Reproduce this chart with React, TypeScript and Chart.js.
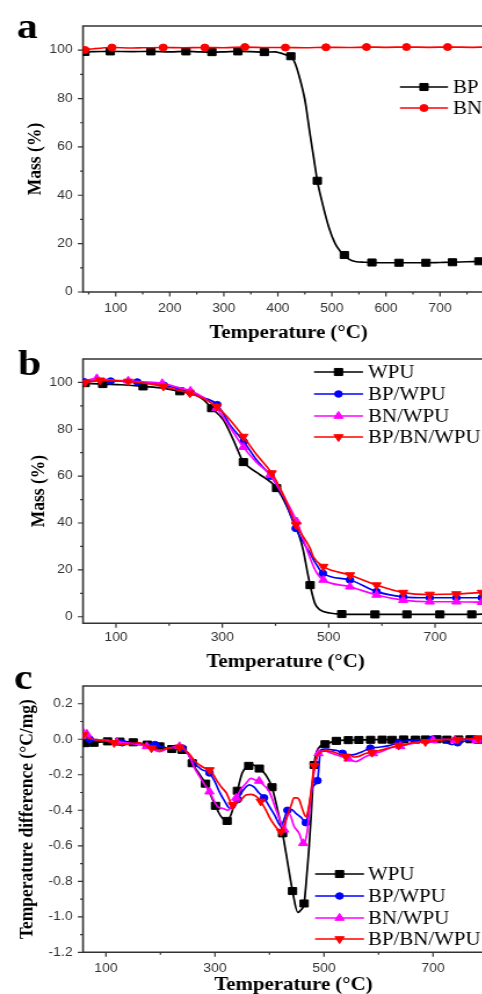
import React, { useEffect, useRef } from "react";
import { Chart, registerables } from "chart.js";
Chart.register(...registerables);

const SERIF = "'Liberation Serif', 'Times New Roman', serif";
const SANS = "'Liberation Sans', Arial, sans-serif";
const SX = 1.16;

// ---------- Panel a data: [T, mass, marker] ----------
const A_BP = [
  [39.5, 99.0], [43, 99.3, 1], [60, 99.4], [90, 99.5, 1], [130, 99.4], [165, 99.5, 1], [200, 99.3],
  [230, 99.5, 1], [255, 99.3], [278, 99.2, 1], [300, 99.3], [326, 99.5, 1], [350, 99.4], [375, 99.2, 1],
  [395, 99.3], [405, 98.8], [416, 98.0], [424, 97.5, 1], [432, 94.5], [441, 88.0], [450, 79.5],
  [459, 66.0], [466, 56.0], [473, 46.0, 1], [481, 38.0], [494, 27.0], [506, 20.0], [515, 17.0],
  [523, 15.3, 1], [532, 13.5], [545, 12.5], [560, 12.3], [574, 12.2, 1], [600, 12.1], [624, 12.1, 1],
  [650, 12.1], [674, 12.1, 1], [700, 12.2], [723, 12.3, 1], [750, 12.5], [772, 12.7, 1], [800, 12.9],
];
const A_BN = [
  [39.5, 99.9], [43, 100.1, 1], [60, 100.6], [93, 101.1, 1], [130, 100.9], [150, 101.0], [188, 101.1, 1],
  [225, 101.0], [265, 101.1, 1], [300, 101.0], [339, 101.3, 1], [380, 101.1], [414, 101.1, 1],
  [450, 101.0], [489, 101.2, 1], [530, 101.1], [564, 101.3, 1], [600, 101.2], [638, 101.3, 1],
  [680, 101.2], [714, 101.3, 1], [760, 101.2], [789, 101.3, 1], [800, 101.3],
];

// ---------- Panel b data ----------
const B_WPU = [
  [38, 99.8], [42, 99.7, 1], [75, 99.3, 1], [110, 99.0], [151, 98.3, 1], [190, 97.5], [220, 96.2, 1],
  [250, 94.5], [265, 92.5], [280, 89.0, 1], [301.8, 84.0], [320.6, 75.5], [339.5, 66.0, 1], [348.8, 64.1],
  [370.8, 60.6], [389.6, 57.7], [402, 54.9, 1], [415, 50.0], [427, 44.2], [443, 35.6], [452, 28.5],
  [458, 21.4], [465, 13.5, 1], [474, 5.7], [483.6, 2.9], [502, 1.6], [524.5, 1.15, 1], [587, 1.0, 1],
  [647, 1.0, 1], [709, 1.0, 1], [769, 1.0, 1], [800, 1.2],
];
const B_BP_WPU = [
  [38, 100.3], [40, 100.3, 1], [65, 100.8], [90, 100.6, 1], [140, 100.2, 1], [190, 98.8, 1], [240, 95.7, 1],
  [265, 93.5], [290.5, 90.5, 1], [314, 82.0], [340, 74.8, 1], [364, 67.0], [391, 60.0, 1], [415, 51.0],
  [438, 37.7, 1], [465, 27.0], [475, 23.0], [489, 18.5, 1], [540, 15.7, 1], [590, 10.7, 1], [640, 8.5, 1],
  [690, 8.1, 1], [740, 8.1, 1], [788, 8.1, 1], [800, 8.1],
];
const B_BN_WPU = [
  [38, 100.5], [64, 101.7, 1], [90, 101.0], [123, 100.7, 1], [150, 100.3], [187, 99.6, 1], [215, 98.0],
  [240, 96.4, 1], [265, 93.5], [289, 89.0, 1], [314, 81.0], [339.5, 72.4, 1], [364, 66.0], [389.7, 60.5, 1],
  [415, 51.5], [440, 40.6, 1], [465, 25.0], [478, 18.5], [490, 15.7, 1], [540, 12.8, 1], [590, 9.3, 1],
  [640, 7.1, 1], [690, 6.4, 1], [740, 6.4, 1], [788, 6.2, 1], [800, 6.2],
];
const B_BP_BN_WPU = [
  [38, 100.0], [41.7, 100.0, 1], [70, 100.9, 1], [123, 100.4, 1], [160, 99.5], [189, 98.3, 1], [215, 96.8],
  [239, 95.4, 1], [265, 93.0], [289.4, 89.7, 1], [314.4, 84.0], [339.5, 76.9, 1], [364.6, 69.1],
  [392.8, 61.3, 1], [414.7, 52.0], [438.5, 39.2, 1], [465, 29.2], [471, 25.6], [490, 21.4, 1],
  [540, 17.8, 1], [590, 13.5, 1], [640, 10.3, 1], [690, 9.5, 1], [740, 9.7, 1], [788, 10.3, 1], [800, 10.3],
];

// ---------- Panel c data ----------
const C_WPU = [
  [58, -0.02], [61.6, -0.022, 1], [78, -0.02, 1], [103, -0.012, 1], [125.6, -0.013, 1], [150, -0.017, 1],
  [176, -0.03, 1], [198.7, -0.04, 1], [221, -0.055, 1], [240, -0.06, 1], [250, -0.075], [258.4, -0.135, 1],
  [270, -0.19], [282.7, -0.25, 1], [290, -0.3], [301, -0.375, 1], [310, -0.43], [322.3, -0.46, 1],
  [330, -0.42], [341.2, -0.29, 1], [350, -0.19], [362, -0.15, 1], [370, -0.145], [381.4, -0.165, 1],
  [393, -0.2], [404.6, -0.27, 1], [415, -0.4], [424, -0.53, 1], [433, -0.69], [442.3, -0.855, 1],
  [452, -0.975], [458, -0.96], [463.6, -0.925, 1], [468, -0.78], [472.8, -0.6], [477, -0.4],
  [482, -0.145, 1], [490, -0.05], [502, -0.028, 1], [522.7, -0.009, 1], [544.7, -0.005, 1],
  [564, -0.004, 1], [585.5, -0.003, 1], [606.8, -0.002, 1], [625, -0.003, 1], [646, -0.001, 1],
  [667.7, -0.002, 1], [686, -0.001, 1], [707, 0.0, 1], [725.6, -0.002, 1], [747, -0.001, 1],
  [768, 0.0, 1], [783, -0.002, 1], [800, -0.001],
];
const C_BP_WPU = [
  [58, 0.0], [70, 0.0, 1], [90, -0.01], [110, -0.01], [130, -0.02, 1], [150, -0.025], [170, -0.03],
  [190, -0.03, 1], [205, -0.045], [220, -0.05], [240, -0.05, 1], [250, -0.08], [259.6, -0.126],
  [275, -0.17], [290, -0.19, 1], [300, -0.24], [308, -0.295], [318, -0.35], [328, -0.39], [335, -0.385],
  [342, -0.34, 1], [350, -0.295], [363, -0.257], [372, -0.27], [380, -0.3], [390, -0.33, 1], [400, -0.38],
  [410, -0.43], [421, -0.49], [427, -0.45], [433, -0.4, 1], [440, -0.395], [448.5, -0.417], [458, -0.44],
  [466.7, -0.47, 1], [473, -0.38], [479, -0.27], [488, -0.233, 1], [494, -0.06], [505, -0.055],
  [515, -0.06], [525, -0.065], [534, -0.079, 1], [552, -0.088], [570, -0.07], [585, -0.05, 1],
  [600, -0.045], [619, -0.036], [637, -0.02, 1], [650, -0.01], [668, -0.005], [698, 0.0, 1],
  [715, -0.005], [735, -0.03], [745, -0.02, 1], [759, -0.01], [777, 0.0, 1], [800, -0.005],
];
const C_BN_WPU = [
  [58, 0.06], [65, 0.03, 1], [75, 0.0], [100, -0.005], [120, -0.015, 1], [150, -0.025], [175, -0.04, 1],
  [198.7, -0.07], [215, -0.05], [235, -0.04, 1], [253.5, -0.098], [262, -0.16], [271.8, -0.21],
  [280, -0.25], [290, -0.295, 1], [305, -0.38], [315, -0.39], [323.5, -0.4], [331, -0.37],
  [338.8, -0.33, 1], [348, -0.28], [357, -0.248], [366, -0.22], [374, -0.23], [381, -0.235, 1],
  [390, -0.26], [399.7, -0.295], [410, -0.38], [418, -0.445], [427, -0.51, 1], [431, -0.45],
  [436, -0.417], [445, -0.49], [454.5, -0.53], [461.8, -0.586, 1], [466, -0.57], [469.7, -0.51],
  [474, -0.38], [478, -0.26], [485, -0.13], [490, -0.08, 1], [500, -0.065], [515, -0.08], [530, -0.095],
  [545, -0.11, 1], [558, -0.126], [575, -0.1], [590, -0.08, 1], [605, -0.07], [620, -0.05],
  [640, -0.04, 1], [660, -0.025], [680, -0.015], [700, -0.005, 1], [720, 0.0], [740, -0.005, 1],
  [760, 0.0], [780, -0.005, 1], [800, -0.01],
];
const C_BP_BN_WPU = [
  [58, 0.024, 1], [65, 0.01], [75, 0.0], [100, -0.01], [115, -0.02, 1], [130, -0.03], [145, -0.025],
  [160, -0.02], [183.5, -0.05, 1], [200, -0.06], [215, -0.05], [235, -0.045, 1], [253.5, -0.085],
  [262, -0.12], [271.8, -0.145], [280, -0.16], [290, -0.173, 1], [297, -0.2], [305, -0.24], [312, -0.27],
  [320.5, -0.3], [332.7, -0.37, 1], [338, -0.355], [345, -0.35], [351, -0.33], [357, -0.314],
  [366, -0.31], [375, -0.32], [384, -0.35, 1], [393.7, -0.4], [400, -0.44], [409, -0.483],
  [421, -0.52, 1], [427, -0.48], [433, -0.426], [440, -0.37], [445, -0.33], [450, -0.33],
  [454.5, -0.34], [460, -0.39], [466.7, -0.436], [471, -0.4], [476, -0.3], [482, -0.15, 1],
  [488, -0.09], [495, -0.07], [505, -0.065], [515, -0.07], [525, -0.08], [534, -0.085],
  [540, -0.098, 1], [547, -0.09], [555, -0.1], [565, -0.095], [576, -0.08], [588, -0.075, 1],
  [600, -0.065], [612, -0.055], [624, -0.045], [637, -0.035, 1], [649.5, -0.03], [660, -0.02],
  [674, -0.015], [686, -0.015, 1], [698, -0.01], [712, -0.005], [728, 0.0], [745, -0.002, 1],
  [759, 0.0], [772, 0.002], [783, 0.005, 1], [800, 0.0],
];

// ---------- ticks ----------
const A_X_MAJOR = [100, 200, 300, 400, 500, 600, 700];
const A_X_MINOR = [50, 150, 250, 350, 450, 550, 650, 750];
const BC_X_MAJOR = [100, 300, 500, 700];
const BC_X_MINOR = [200, 400, 600];
const MASS_Y_MAJOR = [0, 20, 40, 60, 80, 100];
const MASS_Y_MINOR = [10, 30, 50, 70, 90];
const C_Y_MAJOR = [0.2, 0.0, -0.2, -0.4, -0.6, -0.8, -1.0, -1.2];
const C_Y_MINOR = [0.1, -0.1, -0.3, -0.5, -0.7, -0.9, -1.1];

const A_LABELS = ["BP", "BN"];
const BC_LABELS = ["WPU", "BP/WPU", "BN/WPU", "BP/BN/WPU"];

const BLACK = "#000000";
const BLUE = "#0000ff";
const MAGENTA = "#ff00ff";
const RED = "#ff0000";

type Series = { label: string; data: number[][]; color: string; style: string; rot: number; r: number; order: number };

const S = (label: string, data: number[][], color: string, style: string, rot: number, r: number, order: number): Series =>
  ({ label, data, color, style, rot, r, order });

const mk4 = (d: number[][][]) => [
  S(BC_LABELS[0], d[0], BLACK, "rect", 0, 5, 4),
  S(BC_LABELS[1], d[1], BLUE, "circle", 0, 3.3, 3),
  S(BC_LABELS[2], d[2], MAGENTA, "triangle", 0, 4.6, 2),
  S(BC_LABELS[3], d[3], RED, "triangle", 180, 4.6, 1),
];

const PANELS = [
  {
    key: "a", top: 0, W: 440, H: 344, padTop: 26, padRight: 14.1, XH: 52, YW: 71.55,
    xMin: 39.5, xMax: 800, yMin: 0, yMax: 110,
    xMajor: A_X_MAJOR, xMinor: A_X_MINOR, yMajor: MASS_Y_MAJOR, yMinor: MASS_Y_MINOR,
    yDec: 0, xTickPad: 9, yTitle: "Mass (%)", yTitlePad: 19.7,
    letter: "a", letterX: 14.4, letterY: 38.3,
    legend: { x1: 344.8, x2: 386.2, tx: 390.5, ys: [87, 108] },
    series: [S(A_LABELS[0], A_BP, BLACK, "rect", 0, 5, 2), S(A_LABELS[1], A_BN, RED, "circle", 0, 3.5, 1)],
  },
  {
    key: "b", top: 336, W: 440, H: 337, padTop: 23, padRight: 19.1, XH: 49.7, YW: 71.55,
    xMin: 38, xMax: 800, yMin: -2.8, yMax: 110,
    xMajor: BC_X_MAJOR, xMinor: BC_X_MINOR, yMajor: MASS_Y_MAJOR, yMinor: MASS_Y_MINOR,
    yDec: 0, xTickPad: 7, yTitle: "Mass (%)", yTitlePad: 23.1,
    letter: "b", letterX: 15.5, letterY: 39,
    legend: { x1: 270.7, x2: 312.9, tx: 317.2, ys: [36, 58, 80, 101] },
    series: mk4([B_WPU, B_BP_WPU, B_BN_WPU, B_BP_BN_WPU]),
  },
  {
    key: "c", top: 660, W: 440, H: 336, padTop: 26, padRight: 4.3, XH: 43.7, YW: 71.55,
    xMin: 58, xMax: 830, yMin: -1.2, yMax: 0.3,
    xMajor: BC_X_MAJOR, xMinor: BC_X_MINOR, yMajor: C_Y_MAJOR, yMinor: C_Y_MINOR,
    yDec: 1, xTickPad: 9, yTitle: "Temperature difference (\u00B0C/mg)", yTitlePad: 12.5,
    letter: "c", letterX: 12, letterY: 29.3,
    legend: { x1: 271.6, x2: 313.8, tx: 317.2, ys: [214, 236, 258, 279] },
    series: mk4([C_WPU, C_BP_WPU, C_BN_WPU, C_BP_BN_WPU]),
  },
];

function drawMarker(ctx: CanvasRenderingContext2D, style: string, rot: number, x: number, y: number, r: number, color: string) {
  ctx.fillStyle = color;
  ctx.strokeStyle = color;
  ctx.lineWidth = 1;
  ctx.beginPath();
  if (style === "rect") {
    const s = r * Math.SQRT1_2;
    ctx.rect(x - s, y - s, 2 * s, 2 * s);
  } else if (style === "circle") {
    ctx.arc(x, y, r, 0, Math.PI * 2);
  } else {
    let a = (rot * Math.PI) / 180;
    ctx.moveTo(x + Math.sin(a) * r, y - Math.cos(a) * r);
    a += (2 * Math.PI) / 3;
    ctx.lineTo(x + Math.sin(a) * r, y - Math.cos(a) * r);
    a += (2 * Math.PI) / 3;
    ctx.lineTo(x + Math.sin(a) * r, y - Math.cos(a) * r);
    ctx.closePath();
  }
  ctx.fill();
  ctx.stroke();
}

function buildConfig(p: any): any {
  const datasets = p.series.map((s: Series) => ({
    label: s.label,
    data: s.data.map((d) => ({ x: d[0], y: d[1], m: d[2] === 1 })),
    borderColor: s.color,
    backgroundColor: s.color,
    pointBackgroundColor: s.color,
    pointBorderColor: s.color,
    borderWidth: 1.7,
    pointBorderWidth: 1,
    pointStyle: s.style,
    pointRotation: s.rot,
    pointRadius: (c: any) => (c.raw && c.raw.m ? s.r : 0),
    pointHoverRadius: 0,
    cubicInterpolationMode: "monotone",
    fill: false,
    order: s.order,
  }));

  const framePlugin = {
    id: "frame" + p.key,
    beforeDatasetsDraw(chart: any) {
      const { ctx, chartArea } = chart;
      const { left, right, top, bottom } = chartArea;
      const xs = chart.scales.x;
      const ys = chart.scales.y;
      ctx.save();
      ctx.strokeStyle = "#333";
      ctx.lineWidth = 1.6;
      ctx.beginPath();
      ctx.rect(left, top, right - left, bottom - top);
      ctx.stroke();
      ctx.lineWidth = 1.2;
      ctx.beginPath();
      p.xMajor.forEach((v: number) => { const px = xs.getPixelForValue(v); ctx.moveTo(px, bottom); ctx.lineTo(px, bottom + 4.5); });
      p.xMinor.forEach((v: number) => { const px = xs.getPixelForValue(v); ctx.moveTo(px, bottom); ctx.lineTo(px, bottom + 2.5); });
      p.yMajor.forEach((v: number) => { const py = ys.getPixelForValue(v); ctx.moveTo(left, py); ctx.lineTo(left - 4.5, py); });
      p.yMinor.forEach((v: number) => { const py = ys.getPixelForValue(v); ctx.moveTo(left, py); ctx.lineTo(left - 2.5, py); });
      ctx.stroke();
      ctx.restore();
    },
    afterDraw(chart: any) {
      const { ctx } = chart;
      ctx.save();
      const lg = p.legend;
      p.series.forEach((s: Series, i: number) => {
        const y = lg.ys[i];
        ctx.strokeStyle = s.color;
        ctx.lineWidth = 1.7;
        ctx.beginPath();
        ctx.moveTo(lg.x1, y);
        ctx.lineTo(lg.x2, y);
        ctx.stroke();
        drawMarker(ctx, s.style, s.rot, (lg.x1 + lg.x2) / 2, y, s.r, s.color);
        ctx.fillStyle = "#000";
        ctx.font = `18px ${SERIF}`;
        ctx.textBaseline = "middle";
        ctx.textAlign = "left";
        ctx.fillText(s.label, lg.tx, y + 1);
      });
      ctx.fillStyle = "#000";
      ctx.font = `bold 36px ${SERIF}`;
      ctx.textBaseline = "alphabetic";
      ctx.textAlign = "left";
      ctx.fillText(p.letter, p.letterX, p.letterY);
      ctx.restore();
    },
  };

  return {
    type: "line",
    data: { datasets },
    options: {
      responsive: false,
      animation: false,
      devicePixelRatio: 1,
      events: [],
      layout: { padding: { top: p.padTop, right: p.padRight, bottom: 0, left: 0 } },
      plugins: { legend: { display: false }, tooltip: { enabled: false } },
      scales: {
        x: {
          type: "linear",
          position: "bottom",
          min: p.xMin,
          max: p.xMax,
          grid: { display: false, drawTicks: false },
          border: { display: false },
          afterBuildTicks: (sc: any) => { sc.ticks = p.xMajor.map((v: number) => ({ value: v })); },
          ticks: {
            padding: p.xTickPad,
            autoSkip: false,
            maxRotation: 0,
            minRotation: 0,
            color: "#333",
            font: { family: SANS, size: 12 },
            callback: (v: any) => String(v),
          },
          title: {
            display: true,
            text: "Temperature (\u00B0C)",
            color: "#000",
            padding: 0,
            font: { family: SERIF, size: 18, weight: "bold" },
          },
          afterFit: (sc: any) => { sc.height = p.XH; sc.paddingLeft = 0; sc.paddingRight = 0; },
        },
        y: {
          type: "linear",
          min: p.yMin,
          max: p.yMax,
          grid: { display: false, drawTicks: false },
          border: { display: false },
          afterBuildTicks: (sc: any) => { sc.ticks = p.yMajor.map((v: number) => ({ value: v })); },
          ticks: {
            padding: 9,
            autoSkip: false,
            color: "#333",
            font: { family: SANS, size: 12 },
            callback: (v: any) => Number(v).toFixed(p.yDec),
          },
          title: {
            display: true,
            text: p.yTitle,
            color: "#000",
            padding: { top: p.yTitlePad, bottom: 0 },
            font: { family: SERIF, size: 17.5, weight: "bold" },
          },
          afterFit: (sc: any) => { sc.width = p.YW; sc.paddingTop = 0; sc.paddingBottom = 0; },
        },
      },
    },
    plugins: [framePlugin],
  };
}

function PanelChart({ p }: { p: any }) {
  const ref = useRef<HTMLCanvasElement>(null);
  useEffect(() => {
    const chart = new Chart(ref.current as HTMLCanvasElement, buildConfig(p));
    return () => chart.destroy();
  }, [p]);
  return (
    <div
      style={{
        position: "absolute",
        left: 0,
        top: p.top,
        width: p.W,
        height: p.H,
        transform: `scaleX(${SX})`,
        transformOrigin: "0 0",
      }}
    >
      <canvas ref={ref} width={p.W} height={p.H} style={{ display: "block", width: p.W, height: p.H }} />
    </div>
  );
}

export default function App() {
  return (
    <div
      style={{
        position: "fixed",
        left: 0,
        top: 0,
        width: 482,
        height: 994,
        overflow: "hidden",
        background: "#ffffff",
      }}
    >
      {PANELS.map((p) => (
        <PanelChart key={p.key} p={p} />
      ))}
    </div>
  );
}
